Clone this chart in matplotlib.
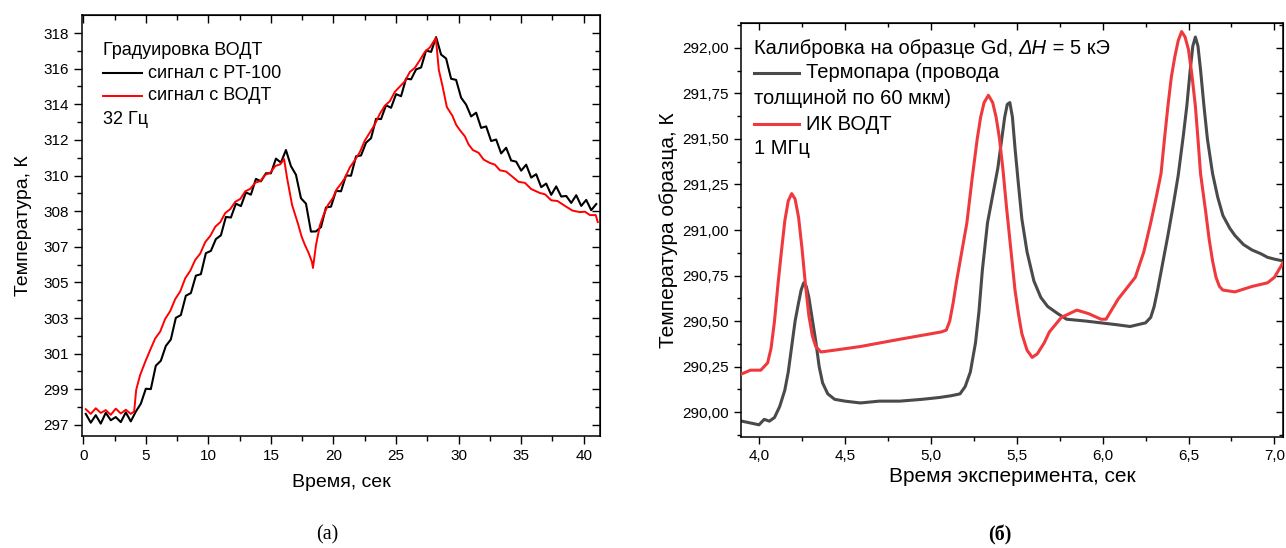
import numpy as np
import matplotlib
matplotlib.use("Agg")
import matplotlib.pyplot as plt
from matplotlib.lines import Line2D
from matplotlib.ticker import FixedLocator, MultipleLocator, FuncFormatter

plt.rcParams['font.family'] = ['Liberation Sans', 'DejaVu Sans']

# ---------------- (a) data ----------------
pt100_t = [0.2, 0.6, 1.0, 1.4, 1.8, 2.2, 2.6, 3.0, 3.4, 3.8, 4.2, 4.6, 5.0, 5.4, 5.8, 6.2, 6.6, 7.0,
           7.4, 7.8, 8.2, 8.6, 9.0, 9.4, 9.8, 10.2, 10.6, 11.0, 11.4, 11.8, 12.2, 12.6, 13.0, 13.4,
           13.8, 14.2, 14.6, 15.0, 15.4, 15.8, 16.2, 16.6, 17.0, 17.4, 17.8, 18.2, 18.6, 19.0, 19.4,
           19.8, 20.2, 20.6, 21.0, 21.4, 21.8, 22.2, 22.6, 23.0, 23.4, 23.8, 24.2, 24.6, 25.0, 25.4,
           25.8, 26.2, 26.6, 27.0, 27.4, 27.8, 28.2, 28.6, 29.0, 29.4, 29.8, 30.2, 30.6, 31.0, 31.4,
           31.8, 32.2, 32.6, 33.0, 33.4, 33.8, 34.2, 34.6, 35.0, 35.4, 35.8, 36.2, 36.6, 37.0, 37.4,
           37.8, 38.2, 38.6, 39.0, 39.4, 39.8, 40.2, 40.6, 41.0]
pt100_T = [297.59, 297.12, 297.52, 297.07, 297.65, 297.25, 297.42, 297.15, 297.67, 297.19, 297.71,
           298.13, 298.93, 298.91, 300.16, 300.42, 301.21, 301.56, 302.71, 302.86, 303.89, 304.03,
           304.96, 305.04, 306.16, 306.28, 306.91, 307.11, 308.09, 308.06, 308.80, 308.67, 309.40,
           309.28, 310.12, 309.99, 310.42, 310.42, 311.20, 310.99, 311.66, 310.80, 310.34, 309.09,
           308.80, 307.31, 307.32, 307.55, 308.60, 308.64, 309.48, 309.46, 310.30, 310.29, 311.32,
           311.37, 312.05, 312.29, 313.32, 313.31, 314.05, 313.91, 314.64, 314.53, 315.47, 315.43,
           315.96, 316.06, 316.97, 316.89, 317.68, 316.75, 316.54, 315.46, 315.40, 314.45, 314.08,
           313.45, 313.65, 312.84, 312.92, 312.14, 312.22, 311.48, 311.78, 311.10, 311.04, 310.56,
           310.88, 310.19, 310.37, 309.68, 309.87, 309.27, 309.72, 309.18, 309.21, 308.84, 309.25,
           308.68, 309.00, 308.45, 308.78]

vodt_t = [0.2, 0.6, 1.0, 1.4, 1.8, 2.2, 2.6, 3.0, 3.4, 3.8, 4.07, 4.23, 4.55, 4.95, 5.35, 5.75,
          6.15, 6.55, 6.95, 7.35, 7.75, 8.15, 8.55, 8.95, 9.35, 9.75, 10.15, 10.55, 10.95, 11.35,
          11.75, 12.15, 12.55, 12.95, 13.35, 13.75, 14.15, 14.55, 14.95, 15.35, 15.75, 16.05, 16.29,
          16.69, 17.17, 17.45, 17.72, 18.0, 18.28, 18.36, 18.60, 18.92, 19.25, 19.56, 19.95, 20.25,
          20.52, 20.9, 21.3, 21.72, 22.1, 22.5, 22.91, 23.3, 23.71, 24.1, 24.5, 24.9, 25.31, 25.7,
          26.1, 26.5, 26.91, 27.3, 27.7, 28.18, 28.42, 28.7, 29.06, 29.5, 29.8, 30.10, 30.5, 30.8,
          31.14, 31.6, 32.0, 32.5, 32.9, 33.3, 33.8, 34.33, 34.8, 35.3, 35.8, 36.49, 36.9, 37.4,
          37.9, 38.64, 39.1, 39.68, 40.1, 40.5, 40.96, 41.12]
vodt_T = [297.84, 297.59, 297.89, 297.64, 297.79, 297.54, 297.87, 297.61, 297.81, 297.59, 297.72,
          298.87, 299.67, 300.36, 301.00, 301.61, 301.98, 302.66, 303.07, 303.71, 304.12, 304.82,
          305.22, 305.80, 306.14, 306.75, 307.08, 307.57, 307.81, 308.30, 308.51, 308.90, 309.05,
          309.46, 309.59, 309.92, 310.00, 310.34, 310.45, 310.81, 310.90, 311.18, 310.17, 308.73,
          307.71, 307.05, 306.59, 306.19, 305.69, 305.37, 306.59, 307.66, 308.27, 308.73, 309.10,
          309.56, 309.79, 310.15, 310.73, 311.13, 311.54, 312.16, 312.60, 313.02, 313.60, 314.02,
          314.26, 314.76, 315.05, 315.32, 315.82, 316.04, 316.46, 316.89, 317.13, 317.63, 315.92,
          315.11, 313.95, 313.49, 313.01, 312.72, 312.39, 311.95, 311.66, 311.51, 311.15, 310.97,
          310.88, 310.58, 310.51, 310.22, 309.96, 309.91, 309.58, 309.37, 309.30, 308.98, 308.94,
          308.62, 308.43, 308.35, 308.37, 308.19, 308.19, 307.82]

left_ytick_labels = ['297', '299', '301', '303', '305', '307', '308', '310', '312', '314', '316', '318']

# ---------------- (б) data ----------------
tc_t = [3.90, 3.95, 4.00, 4.03, 4.06, 4.09, 4.12, 4.15, 4.17, 4.19, 4.21, 4.23, 4.245, 4.26, 4.275,
        4.29, 4.31, 4.33, 4.35, 4.37, 4.40, 4.44, 4.50, 4.59, 4.70, 4.82, 4.95, 5.05, 5.12, 5.17,
        5.20, 5.23, 5.26, 5.28, 5.30, 5.33, 5.36, 5.39, 5.41, 5.43, 5.445, 5.46, 5.475, 5.49, 5.51,
        5.53, 5.56, 5.60, 5.64, 5.68, 5.74, 5.79, 5.90, 5.99, 6.08, 6.16, 6.25, 6.28, 6.30, 6.32,
        6.35, 6.38, 6.41, 6.44, 6.47, 6.49, 6.51, 6.525, 6.54, 6.555, 6.57, 6.59, 6.61, 6.64, 6.67,
        6.70, 6.74, 6.77, 6.82, 6.87, 6.92, 6.96, 7.00, 7.05]
tc_T = [289.95, 289.94, 289.93, 289.96, 289.95, 289.97, 290.03, 290.12, 290.22, 290.36, 290.50,
        290.60, 290.67, 290.71, 290.69, 290.63, 290.51, 290.39, 290.25, 290.16, 290.10, 290.07,
        290.06, 290.05, 290.06, 290.06, 290.07, 290.08, 290.09, 290.10, 290.14, 290.22, 290.38,
        290.55, 290.78, 291.04, 291.19, 291.34, 291.48, 291.62, 291.69, 291.70, 291.62, 291.45,
        291.25, 291.06, 290.88, 290.72, 290.63, 290.58, 290.54, 290.51, 290.50, 290.49, 290.48,
        290.47, 290.49, 290.52, 290.58, 290.67, 290.82, 290.97, 291.13, 291.30, 291.52, 291.68,
        291.88, 292.01, 292.06, 292.01, 291.88, 291.68, 291.50, 291.31, 291.18, 291.08, 291.01,
        290.97, 290.92, 290.89, 290.87, 290.85, 290.84, 290.83]

ir_t = [3.90, 3.95, 4.01, 4.05, 4.07, 4.09, 4.11, 4.13, 4.15, 4.17, 4.19, 4.21, 4.23, 4.25, 4.27,
        4.29, 4.31, 4.33, 4.36, 4.44, 4.59, 4.82, 5.00, 5.06, 5.09, 5.11, 5.13, 5.15, 5.18, 5.21,
        5.24, 5.27, 5.29, 5.31, 5.335, 5.36, 5.38, 5.40, 5.42, 5.44, 5.465, 5.49, 5.51, 5.53, 5.56,
        5.59, 5.62, 5.66, 5.69, 5.76, 5.85, 5.92, 5.99, 6.02, 6.09, 6.19, 6.24, 6.28, 6.31, 6.34,
        6.36, 6.38, 6.40, 6.42, 6.44, 6.46, 6.48, 6.50, 6.52, 6.54, 6.555, 6.57, 6.60, 6.62, 6.64,
        6.66, 6.68, 6.70, 6.77, 6.87, 6.96, 7.00, 7.05]
ir_T = [290.21, 290.23, 290.23, 290.27, 290.35, 290.50, 290.70, 290.88, 291.05, 291.16, 291.20,
        291.17, 291.07, 290.90, 290.70, 290.53, 290.42, 290.36, 290.33, 290.34, 290.36, 290.40,
        290.43, 290.44, 290.45, 290.50, 290.60, 290.72, 290.88, 291.04, 291.28, 291.50, 291.62,
        291.70, 291.74, 291.70, 291.62, 291.50, 291.33, 291.13, 290.90, 290.67, 290.54, 290.43,
        290.34, 290.30, 290.32, 290.38, 290.44, 290.52, 290.56, 290.54, 290.51, 290.51, 290.62,
        290.74, 290.88, 291.04, 291.17, 291.31, 291.50, 291.68, 291.84, 291.95, 292.04, 292.09,
        292.06, 291.99, 291.85, 291.68, 291.50, 291.31, 291.10, 290.95, 290.83, 290.74, 290.69,
        290.67, 290.66, 290.69, 290.71, 290.74, 290.82]

W, H = 1286, 548
fig = plt.figure(figsize=(W / 100, H / 100), dpi=100)


def fx(px):
    return px / W


def fy(py):
    return 1 - py / H


def style_axes(ax, major_len):
    for s in ax.spines.values():
        s.set_linewidth(1.1)
    ax.tick_params(which='both', direction='out', top=False, right=False, labelsize=11, width=1.0)
    ax.tick_params(which='major', length=major_len)
    ax.tick_params(which='minor', length=major_len * 0.55)
    sec = ax.secondary_xaxis('top')
    sec.tick_params(which='both', direction='in', labeltop=False, width=1.0)
    sec.tick_params(which='major', length=major_len)
    sec.tick_params(which='minor', length=major_len * 0.55)
    sec.xaxis.set_major_locator(ax.xaxis.get_major_locator())
    sec.xaxis.set_minor_locator(ax.xaxis.get_minor_locator())
    sec.set_xticklabels([])
    secy = ax.secondary_yaxis('right')
    secy.tick_params(which='both', direction='in', labelright=False, width=1.0)
    secy.tick_params(which='major', length=major_len)
    secy.tick_params(which='minor', length=major_len * 0.55)
    secy.yaxis.set_major_locator(ax.yaxis.get_major_locator())
    secy.yaxis.set_minor_locator(ax.yaxis.get_minor_locator())
    secy.set_yticklabels([])


# ---------------- panel (a) ----------------
ax1 = fig.add_axes([fx(82), fy(436), (600 - 82) / W, (436 - 15) / H])
ax1.plot(pt100_t, pt100_T, color='black', lw=1.5, zorder=2)
ax1.plot(vodt_t, vodt_T, color='#ff0000', lw=1.4, zorder=3)
ax1.set_xlim(-0.1, 41.3)
ax1.set_ylim(296.41, 318.86)
ypos = np.linspace(297, 317.9, len(left_ytick_labels))
ax1.yaxis.set_major_locator(FixedLocator(ypos))
ax1.yaxis.set_minor_locator(FixedLocator((ypos[:-1] + ypos[1:]) / 2))
ax1.set_yticklabels(left_ytick_labels)
ax1.xaxis.set_major_locator(MultipleLocator(5))
ax1.xaxis.set_minor_locator(MultipleLocator(2.5))
ax1.set_xlabel('Время, сек', fontsize=14, labelpad=8)
ax1.set_ylabel('Температура, К', fontsize=14, labelpad=8)
style_axes(ax1, 6)

# legend (a)
lfs = 13
fig.text(fx(103), fy(50), 'Градуировка ВОДТ', fontsize=lfs, va='center', ha='left')
fig.add_artist(Line2D([fx(103), fx(142)], [fy(73), fy(73)], color='black', lw=1.5))
fig.text(fx(148), fy(73), 'сигнал с PT-100', fontsize=lfs, va='center', ha='left')
fig.add_artist(Line2D([fx(103), fx(142)], [fy(96), fy(96)], color='#ff0000', lw=1.4))
fig.text(fx(148), fy(96), 'сигнал с ВОДТ', fontsize=lfs, va='center', ha='left')
fig.text(fx(103), fy(119), '32 Гц', fontsize=lfs, va='center', ha='left')

# ---------------- panel (б) ----------------
ax2 = fig.add_axes([fx(741), fy(437), (1283 - 741) / W, (437 - 23) / H])
ax2.plot(tc_t, tc_T, color='#4a4a4a', lw=2.2, zorder=2)
ax2.plot(ir_t, ir_T, color='#f0393d', lw=2.2, zorder=3)
ax2.set_xlim(3.895, 7.05)
ax2.set_ylim(289.863, 292.137)
ax2.xaxis.set_major_locator(MultipleLocator(0.5))
ax2.xaxis.set_minor_locator(MultipleLocator(0.25))
ax2.yaxis.set_major_locator(MultipleLocator(0.25))
ax2.yaxis.set_minor_locator(MultipleLocator(0.125))
ax2.xaxis.set_major_formatter(FuncFormatter(lambda v, p: f'{v:.1f}'.replace('.', ',')))
ax2.yaxis.set_major_formatter(FuncFormatter(lambda v, p: f'{v:.2f}'.replace('.', ',')))
ax2.set_xlabel('Время эксперимента, сек', fontsize=15, labelpad=3)
ax2.set_ylabel('Температура образца, К', fontsize=15, labelpad=3)
style_axes(ax2, 5)

rfs = 14.5
renderer = fig.canvas.get_renderer()
t1 = fig.text(fx(754), fy(49), 'Калибровка на образце Gd, ', fontsize=rfs, va='center', ha='left')
bb = t1.get_window_extent(renderer=renderer)
t2 = fig.text(bb.x1 / W, fy(49), 'ΔH', fontsize=rfs, style='italic', va='center', ha='left')
bb2 = t2.get_window_extent(renderer=renderer)
fig.text(bb2.x1 / W, fy(49), ' = 5 кЭ', fontsize=rfs, va='center', ha='left')
fig.add_artist(Line2D([fx(754), fx(799)], [fy(73), fy(73)], color='#4a4a4a', lw=2.2))
fig.text(fx(806), fy(73), 'Термопара (провода', fontsize=rfs, va='center', ha='left')
fig.text(fx(754), fy(99), 'толщиной по 60 мкм)', fontsize=rfs, va='center', ha='left')
fig.add_artist(Line2D([fx(754), fx(799)], [fy(124), fy(124)], color='#f0393d', lw=2.2))
fig.text(fx(806), fy(124), 'ИК ВОДТ', fontsize=rfs, va='center', ha='left')
fig.text(fx(754), fy(148), '1 МГц', fontsize=rfs, va='center', ha='left')

# captions
fig.text(fx(327), fy(535), '(a)', fontsize=14.5, family='Liberation Serif', ha='center', va='center')
fig.text(fx(1000), fy(535), '(б)', fontsize=14.5, family='Liberation Serif', fontweight='bold',
         ha='center', va='center')

fig.savefig('out.png', dpi=100)
